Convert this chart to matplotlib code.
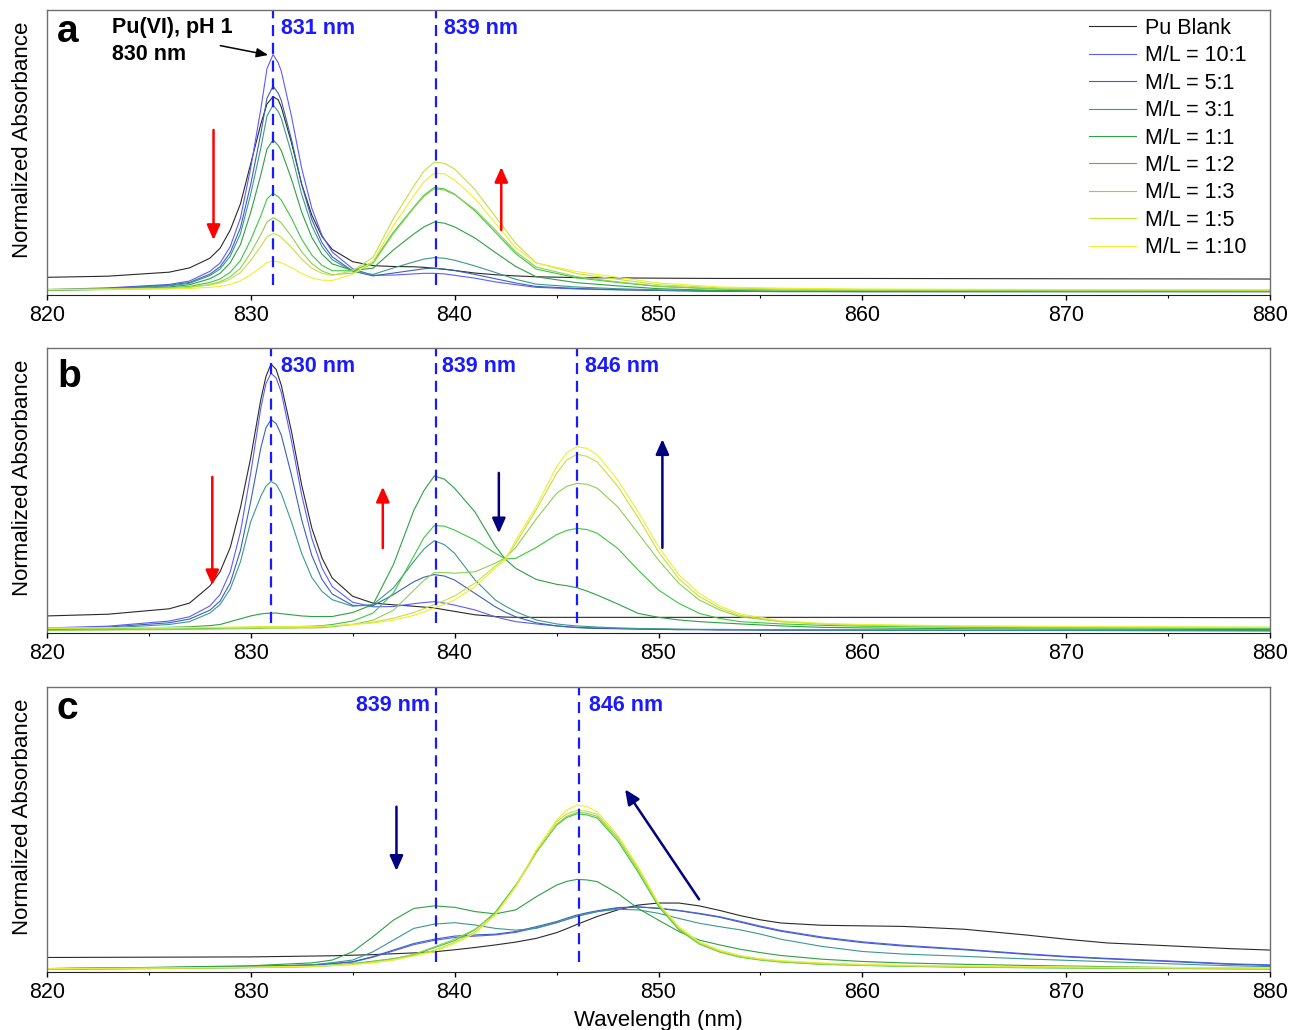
import matplotlib
matplotlib.use("Agg")
import matplotlib.pyplot as plt
from matplotlib.ticker import MultipleLocator

plt.rcParams["font.family"] = ["Liberation Sans", "DejaVu Sans"]

# Parameters
figsize = (12.94, 10.30)
dpi = 100
fontsize = 15.5
line_width = 0.8
dash_color = "#1a1aff"

# Series labels and colours (same order in every panel)
LABELS = ["Pu Blank", "M/L = 10:1", "M/L = 5:1", "M/L = 3:1", "M/L = 1:1",
          "M/L = 1:2", "M/L = 1:3", "M/L = 1:5", "M/L = 1:10"]
COLORS = ["#2a2a2a", "#5c5cff", "#3b62b5", "#3a9a8a", "#2ea043",
          "#3cc83c", "#8ed050", "#c6e040", "#eeee30"]

# ---------------- panel a : pH 1 ----------------
A_WL = [820, 823, 826, 827, 828, 828.5, 829, 829.5, 830, 830.5, 830.8, 831.1, 831.35, 831.5,
        832, 832.5, 833, 833.5, 834, 835, 836, 837, 838, 838.5, 839, 839.5, 840, 841, 842,
        843, 844, 846, 848, 850, 853, 856, 860, 870, 880]
A_BLANK = [0.062, 0.066, 0.080, 0.095, 0.129, 0.164, 0.228, 0.320, 0.460, 0.600, 0.670, 0.696,
           0.685, 0.660, 0.535, 0.390, 0.280, 0.205, 0.160, 0.117, 0.103, 0.100, 0.099, 0.097,
           0.094, 0.090, 0.086, 0.077, 0.071, 0.067, 0.064, 0.061, 0.060, 0.059, 0.058, 0.058,
           0.058, 0.057, 0.056]
A_10_1 = [0.019, 0.025, 0.037, 0.049, 0.083, 0.112, 0.170, 0.270, 0.445, 0.653, 0.794, 0.844,
          0.815, 0.786, 0.628, 0.445, 0.304, 0.209, 0.151, 0.092, 0.069, 0.070, 0.074, 0.076,
          0.076, 0.074, 0.069, 0.059, 0.046, 0.036, 0.027, 0.021, 0.018, 0.016, 0.013, 0.012,
          0.012, 0.012, 0.012]
A_5_1 = [0.018, 0.023, 0.034, 0.044, 0.073, 0.099, 0.149, 0.236, 0.387, 0.567, 0.690, 0.733,
         0.708, 0.683, 0.546, 0.388, 0.265, 0.183, 0.134, 0.084, 0.067, 0.077, 0.087, 0.092,
         0.094, 0.091, 0.086, 0.072, 0.057, 0.042, 0.030, 0.023, 0.019, 0.016, 0.013, 0.012,
         0.012, 0.012, 0.012]
A_3_1 = [0.017, 0.022, 0.032, 0.041, 0.068, 0.091, 0.136, 0.215, 0.353, 0.516, 0.628, 0.667,
         0.644, 0.621, 0.497, 0.354, 0.243, 0.169, 0.124, 0.083, 0.072, 0.095, 0.116, 0.126,
         0.131, 0.129, 0.122, 0.102, 0.079, 0.055, 0.038, 0.028, 0.022, 0.018, 0.014, 0.013,
         0.012, 0.012, 0.012]
A_1_1 = [0.016, 0.020, 0.028, 0.036, 0.057, 0.076, 0.113, 0.177, 0.289, 0.422, 0.512, 0.544,
         0.525, 0.507, 0.407, 0.291, 0.202, 0.143, 0.109, 0.086, 0.094, 0.158, 0.214, 0.239,
         0.256, 0.252, 0.239, 0.200, 0.149, 0.100, 0.064, 0.043, 0.032, 0.022, 0.016, 0.013,
         0.012, 0.012, 0.012]
A_1_2 = [0.018, 0.020, 0.025, 0.030, 0.044, 0.056, 0.080, 0.121, 0.193, 0.278, 0.337, 0.357,
         0.345, 0.333, 0.270, 0.196, 0.140, 0.104, 0.085, 0.085, 0.115, 0.220, 0.308, 0.350,
         0.377, 0.372, 0.354, 0.295, 0.220, 0.145, 0.091, 0.060, 0.044, 0.030, 0.021, 0.017,
         0.016, 0.015, 0.015]
A_1_3 = [0.017, 0.019, 0.023, 0.027, 0.037, 0.046, 0.064, 0.094, 0.148, 0.212, 0.256, 0.271,
         0.262, 0.253, 0.206, 0.152, 0.110, 0.084, 0.071, 0.077, 0.110, 0.215, 0.305, 0.346,
         0.373, 0.368, 0.352, 0.300, 0.228, 0.152, 0.098, 0.064, 0.046, 0.031, 0.021, 0.017,
         0.016, 0.015, 0.015]
A_1_5 = [0.020, 0.021, 0.024, 0.027, 0.035, 0.042, 0.056, 0.079, 0.121, 0.171, 0.204, 0.216,
         0.209, 0.202, 0.167, 0.126, 0.094, 0.076, 0.069, 0.085, 0.132, 0.268, 0.382, 0.435,
         0.466, 0.462, 0.442, 0.370, 0.275, 0.181, 0.113, 0.075, 0.055, 0.036, 0.025, 0.021,
         0.019, 0.018, 0.018]
A_1_10 = [0.019, 0.020, 0.021, 0.023, 0.027, 0.030, 0.037, 0.050, 0.071, 0.097, 0.114, 0.120,
          0.116, 0.113, 0.096, 0.075, 0.060, 0.052, 0.051, 0.072, 0.118, 0.243, 0.348, 0.397,
          0.427, 0.425, 0.404, 0.338, 0.252, 0.166, 0.112, 0.082, 0.062, 0.042, 0.028, 0.024,
          0.021, 0.019, 0.018]

# ---------------- panel b ----------------
B_WL = [820, 823, 826, 827, 828, 828.5, 829, 829.5, 830, 830.5, 830.75, 831, 831.25, 831.5,
        832, 832.5, 833, 833.5, 834, 835, 836, 837, 838, 838.5, 839, 839.5, 840, 841, 842,
        842.5, 843, 844, 845, 845.5, 846, 846.5, 847, 848, 849, 850, 851, 852, 853, 854, 856,
        858, 860, 865, 870, 880]
B_BLANK = [0.060, 0.066, 0.085, 0.105, 0.165, 0.215, 0.300, 0.440, 0.614, 0.820, 0.900, 0.944,
           0.925, 0.870, 0.708, 0.520, 0.368, 0.263, 0.193, 0.129, 0.105, 0.099, 0.094, 0.091,
           0.088, 0.082, 0.076, 0.064, 0.058, 0.056, 0.055, 0.055, 0.055, 0.055, 0.055, 0.055,
           0.055, 0.055, 0.055, 0.055, 0.055, 0.055, 0.055, 0.055, 0.055, 0.055, 0.055, 0.055,
           0.055, 0.054]
B_10_1 = [0.018, 0.024, 0.042, 0.057, 0.095, 0.135, 0.215, 0.355, 0.560, 0.790, 0.875, 0.912,
          0.895, 0.845, 0.675, 0.485, 0.332, 0.228, 0.163, 0.108, 0.092, 0.093, 0.103, 0.107,
          0.110, 0.105, 0.098, 0.081, 0.057, 0.048, 0.040, 0.032, 0.025, 0.022, 0.020, 0.019,
          0.018, 0.016, 0.014, 0.013, 0.012, 0.012, 0.011, 0.011, 0.010, 0.010, 0.010, 0.009,
          0.009, 0.008]
B_5_1 = [0.016, 0.021, 0.036, 0.049, 0.080, 0.112, 0.176, 0.290, 0.460, 0.650, 0.720, 0.749,
         0.735, 0.695, 0.555, 0.398, 0.272, 0.188, 0.137, 0.097, 0.096, 0.135, 0.180, 0.196,
         0.205, 0.200, 0.186, 0.139, 0.092, 0.073, 0.057, 0.036, 0.025, 0.022, 0.019, 0.017,
         0.016, 0.015, 0.014, 0.013, 0.012, 0.012, 0.011, 0.011, 0.010, 0.010, 0.010, 0.009,
         0.009, 0.008]
B_3_1 = [0.013, 0.018, 0.030, 0.040, 0.070, 0.100, 0.155, 0.250, 0.390, 0.480, 0.515, 0.532,
         0.522, 0.490, 0.390, 0.280, 0.195, 0.146, 0.117, 0.094, 0.100, 0.158, 0.251, 0.295,
         0.324, 0.310, 0.280, 0.186, 0.116, 0.094, 0.075, 0.046, 0.032, 0.028, 0.025, 0.023,
         0.021, 0.018, 0.016, 0.015, 0.014, 0.013, 0.013, 0.012, 0.012, 0.011, 0.011, 0.010,
         0.010, 0.009]
B_1_1 = [0.012, 0.015, 0.020, 0.022, 0.026, 0.030, 0.040, 0.050, 0.060, 0.067, 0.069, 0.070,
         0.070, 0.068, 0.064, 0.060, 0.058, 0.058, 0.058, 0.072, 0.100, 0.240, 0.430, 0.500,
         0.551, 0.540, 0.508, 0.425, 0.305, 0.258, 0.227, 0.188, 0.171, 0.166, 0.159, 0.147,
         0.133, 0.102, 0.069, 0.055, 0.046, 0.040, 0.036, 0.032, 0.025, 0.020, 0.018, 0.015,
         0.014, 0.012]
B_1_2 = [0.010, 0.012, 0.014, 0.015, 0.016, 0.017, 0.018, 0.019, 0.020, 0.021, 0.022, 0.022,
         0.022, 0.022, 0.022, 0.023, 0.024, 0.026, 0.030, 0.042, 0.070, 0.140, 0.270, 0.335,
         0.377, 0.375, 0.361, 0.326, 0.280, 0.260, 0.262, 0.300, 0.345, 0.360, 0.367, 0.363,
         0.350, 0.297, 0.221, 0.151, 0.104, 0.069, 0.051, 0.040, 0.032, 0.027, 0.024, 0.020,
         0.018, 0.016]
B_1_3 = [0.010, 0.011, 0.012, 0.013, 0.014, 0.014, 0.015, 0.015, 0.016, 0.016, 0.017, 0.017,
         0.017, 0.017, 0.017, 0.018, 0.018, 0.019, 0.022, 0.030, 0.045, 0.080, 0.150, 0.185,
         0.212, 0.212, 0.210, 0.215, 0.245, 0.265, 0.300, 0.400, 0.490, 0.515, 0.525, 0.522,
         0.508, 0.443, 0.350, 0.256, 0.174, 0.116, 0.081, 0.057, 0.040, 0.032, 0.027, 0.022,
         0.020, 0.018]
B_1_5 = [0.016, 0.017, 0.018, 0.018, 0.019, 0.019, 0.019, 0.020, 0.020, 0.021, 0.021, 0.021,
         0.021, 0.021, 0.021, 0.022, 0.022, 0.023, 0.025, 0.030, 0.038, 0.052, 0.072, 0.085,
         0.100, 0.114, 0.130, 0.175, 0.235, 0.262, 0.315, 0.432, 0.560, 0.607, 0.627, 0.620,
         0.600, 0.515, 0.405, 0.285, 0.190, 0.128, 0.088, 0.062, 0.040, 0.032, 0.028, 0.024,
         0.022, 0.020]
B_1_10 = [0.018, 0.019, 0.019, 0.020, 0.020, 0.020, 0.021, 0.021, 0.021, 0.022, 0.022, 0.022,
          0.022, 0.022, 0.022, 0.023, 0.023, 0.024, 0.026, 0.030, 0.035, 0.045, 0.062, 0.074,
          0.088, 0.101, 0.116, 0.163, 0.228, 0.258, 0.326, 0.443, 0.584, 0.632, 0.654, 0.648,
          0.625, 0.537, 0.426, 0.303, 0.204, 0.139, 0.095, 0.067, 0.043, 0.034, 0.030, 0.025,
          0.023, 0.020]

# ---------------- panel c ----------------
C_WL = [820, 825, 830, 833, 834, 835, 836, 837, 838, 839, 840, 841, 842, 843, 844, 845, 845.5,
        846, 846.5, 847, 848, 849, 850, 851, 852, 853, 854, 855, 856, 858, 860, 862, 865, 868,
        870, 872, 875, 878, 880]
C_BLANK = [0.051, 0.052, 0.053, 0.056, 0.057, 0.059, 0.061, 0.064, 0.067, 0.071, 0.078, 0.086,
           0.095, 0.105, 0.118, 0.138, 0.152, 0.167, 0.181, 0.195, 0.218, 0.235, 0.242, 0.242,
           0.232, 0.216, 0.198, 0.183, 0.172, 0.164, 0.162, 0.160, 0.150, 0.130, 0.115, 0.102,
           0.092, 0.082, 0.077]
C_10_1 = [0.012, 0.014, 0.019, 0.024, 0.029, 0.035, 0.052, 0.074, 0.096, 0.111, 0.121, 0.126,
          0.130, 0.139, 0.155, 0.173, 0.184, 0.195, 0.204, 0.212, 0.224, 0.228, 0.224, 0.216,
          0.206, 0.194, 0.178, 0.161, 0.146, 0.123, 0.106, 0.094, 0.080, 0.064, 0.055, 0.048,
          0.039, 0.029, 0.025]
C_5_1 = [0.012, 0.015, 0.020, 0.025, 0.030, 0.036, 0.054, 0.077, 0.100, 0.115, 0.126, 0.130,
         0.133, 0.142, 0.159, 0.177, 0.189, 0.200, 0.208, 0.215, 0.226, 0.229, 0.223, 0.215,
         0.204, 0.192, 0.175, 0.158, 0.143, 0.120, 0.103, 0.091, 0.078, 0.062, 0.053, 0.046,
         0.037, 0.027, 0.023]
C_3_1 = [0.010, 0.013, 0.018, 0.025, 0.033, 0.042, 0.071, 0.112, 0.153, 0.168, 0.173, 0.165,
         0.153, 0.147, 0.153, 0.173, 0.185, 0.196, 0.204, 0.212, 0.220, 0.218, 0.206, 0.188,
         0.171, 0.159, 0.148, 0.133, 0.115, 0.090, 0.072, 0.063, 0.055, 0.046, 0.041, 0.036,
         0.029, 0.022, 0.019]
C_1_1 = [0.012, 0.016, 0.022, 0.032, 0.042, 0.071, 0.124, 0.182, 0.223, 0.232, 0.227, 0.212,
         0.204, 0.218, 0.264, 0.305, 0.318, 0.325, 0.323, 0.317, 0.276, 0.223, 0.182, 0.142,
         0.112, 0.095, 0.080, 0.068, 0.058, 0.045, 0.037, 0.032, 0.027, 0.023, 0.021, 0.019,
         0.016, 0.014, 0.013]
C_1_2 = [0.010, 0.012, 0.016, 0.020, 0.024, 0.030, 0.038, 0.047, 0.060, 0.085, 0.110, 0.148,
         0.210, 0.305, 0.420, 0.515, 0.542, 0.555, 0.551, 0.540, 0.460, 0.350, 0.230, 0.148,
         0.098, 0.070, 0.052, 0.042, 0.035, 0.027, 0.023, 0.020, 0.017, 0.015, 0.014, 0.013,
         0.012, 0.011, 0.010]
C_1_3 = [0.010, 0.012, 0.015, 0.019, 0.023, 0.028, 0.036, 0.046, 0.062, 0.088, 0.115, 0.150,
         0.205, 0.300, 0.418, 0.518, 0.546, 0.560, 0.557, 0.546, 0.468, 0.358, 0.236, 0.152,
         0.100, 0.071, 0.053, 0.043, 0.036, 0.028, 0.024, 0.021, 0.018, 0.016, 0.015, 0.014,
         0.013, 0.012, 0.011]
C_1_5 = [0.011, 0.013, 0.016, 0.019, 0.022, 0.026, 0.033, 0.042, 0.058, 0.076, 0.104, 0.140,
         0.202, 0.300, 0.425, 0.527, 0.555, 0.567, 0.564, 0.553, 0.474, 0.364, 0.238, 0.155,
         0.103, 0.074, 0.056, 0.045, 0.038, 0.030, 0.025, 0.022, 0.019, 0.017, 0.016, 0.015,
         0.014, 0.013, 0.012]
C_1_10 = [0.012, 0.014, 0.017, 0.020, 0.023, 0.027, 0.033, 0.042, 0.056, 0.071, 0.100, 0.136,
          0.200, 0.300, 0.428, 0.533, 0.568, 0.586, 0.580, 0.562, 0.480, 0.370, 0.241, 0.159,
          0.106, 0.077, 0.058, 0.047, 0.040, 0.032, 0.027, 0.024, 0.021, 0.019, 0.018, 0.017,
          0.016, 0.015, 0.014]

PANELS = [
    dict(wl=A_WL, curves=[A_BLANK, A_10_1, A_5_1, A_3_1, A_1_1, A_1_2, A_1_3, A_1_5, A_1_10],
         letter="a", letter_y=0.889,
         dashes=[831.1, 839.1],
         peak_labels=[(831.5, "831 nm", "left"), (839.5, "839 nm", "left")]),
    dict(wl=B_WL, curves=[B_BLANK, B_10_1, B_5_1, B_3_1, B_1_1, B_1_2, B_1_3, B_1_5, B_1_10],
         letter="b", letter_y=0.864,
         dashes=[831.0, 839.1, 846.0],
         peak_labels=[(831.5, "830 nm", "left"), (839.4, "839 nm", "left"),
                      (846.4, "846 nm", "left")]),
    dict(wl=C_WL, curves=[C_BLANK, C_10_1, C_5_1, C_3_1, C_1_1, C_1_2, C_1_3, C_1_5, C_1_10],
         letter="c", letter_y=0.887,
         dashes=[839.1, 846.1],
         peak_labels=[(838.8, "839 nm", "right"), (846.6, "846 nm", "left")]),
]

# arrows: (tail, tip, colour) in data coords
ARROWS = [
    [((828.18, 0.579), (828.18, 0.193), "red"), ((842.29, 0.228), (842.29, 0.449), "red")],
    [((828.12, 0.548), (828.12, 0.168), "red"), ((836.48, 0.298), (836.48, 0.513), "red"),
     ((842.17, 0.562), (842.17, 0.350), "#000080"), ((850.19, 0.299), (850.19, 0.680), "#000080")],
    [((837.15, 0.580), (837.15, 0.355), "#000080"), ((851.99, 0.255), (848.36, 0.641), "#000080")],
]

fig = plt.figure(figsize=figsize, dpi=dpi)
axes_rects = [
    [0.0361, 0.7136, 0.9456, 0.2767],
    [0.0361, 0.3854, 0.9456, 0.2767],
    [0.0361, 0.0563, 0.9456, 0.2767],
]

for i, panel in enumerate(PANELS):
    ax = fig.add_axes(axes_rects[i])
    for ys, lab, col in zip(panel["curves"], LABELS, COLORS):
        ax.plot(panel["wl"], ys, color=col, lw=line_width, label=lab)

    # peak position markers
    for xd in panel["dashes"]:
        ax.axvline(xd, ymin=0.035, ymax=1, color=dash_color, lw=1.6, dashes=(5, 3))
    for xt, txt, ha in panel["peak_labels"]:
        ax.text(xt, 0.917, txt, color=dash_color, fontsize=fontsize, fontweight="bold",
                ha=ha, va="baseline")
    ax.text(820.5, panel["letter_y"], panel["letter"], fontsize=28, fontweight="bold",
            ha="left", va="baseline")

    for tail, tip, col in ARROWS[i]:
        ax.annotate("", xy=tip, xytext=tail,
                    arrowprops=dict(arrowstyle="-|>,head_length=0.45,head_width=0.2",
                                    color=col, lw=1.8, mutation_scale=20,
                                    shrinkA=0, shrinkB=0))

    ax.set_xlim(820, 880)
    ax.set_ylim(0, 1)
    ax.xaxis.set_major_locator(MultipleLocator(10))
    ax.xaxis.set_minor_locator(MultipleLocator(5))
    ax.tick_params(axis="x", which="major", direction="out", length=3.6, width=1,
                   labelsize=fontsize, pad=3.5)
    ax.tick_params(axis="x", which="minor", direction="out", length=2.2, width=0.8)
    ax.set_yticks([])
    for side in ["top", "left", "right"]:
        ax.spines[side].set_color("#707070")
        ax.spines[side].set_linewidth(1.0)
    ax.spines["bottom"].set_color("#202020")
    ax.set_ylabel("Normalized Absorbance", fontsize=16)
    ax.yaxis.set_label_coords(-0.0115, 0.545)

    if i == 0:
        ax.text(823.2, 0.918, "Pu(VI), pH 1", fontsize=fontsize, fontweight="bold",
                ha="left", va="baseline")
        ax.text(823.2, 0.825, "830 nm", fontsize=fontsize, fontweight="bold",
                ha="left", va="baseline")
        ax.annotate("", xy=(830.86, 0.842), xytext=(828.51, 0.875),
                    arrowprops=dict(arrowstyle="-|>,head_length=0.5,head_width=0.2",
                                    color="black", lw=1.1, mutation_scale=14,
                                    shrinkA=0, shrinkB=0))
        ax.legend(loc="upper right", bbox_to_anchor=(0.9807, 0.973), frameon=False,
                  fontsize=fontsize, handlelength=2.2, handletextpad=0.42,
                  labelspacing=0.30, borderpad=0, borderaxespad=0)
    if i == 2:
        ax.set_xlabel("Wavelength (nm)", fontsize=16)
        ax.xaxis.set_label_coords(0.5, -0.132)

fig.savefig("out.png", dpi=dpi)
